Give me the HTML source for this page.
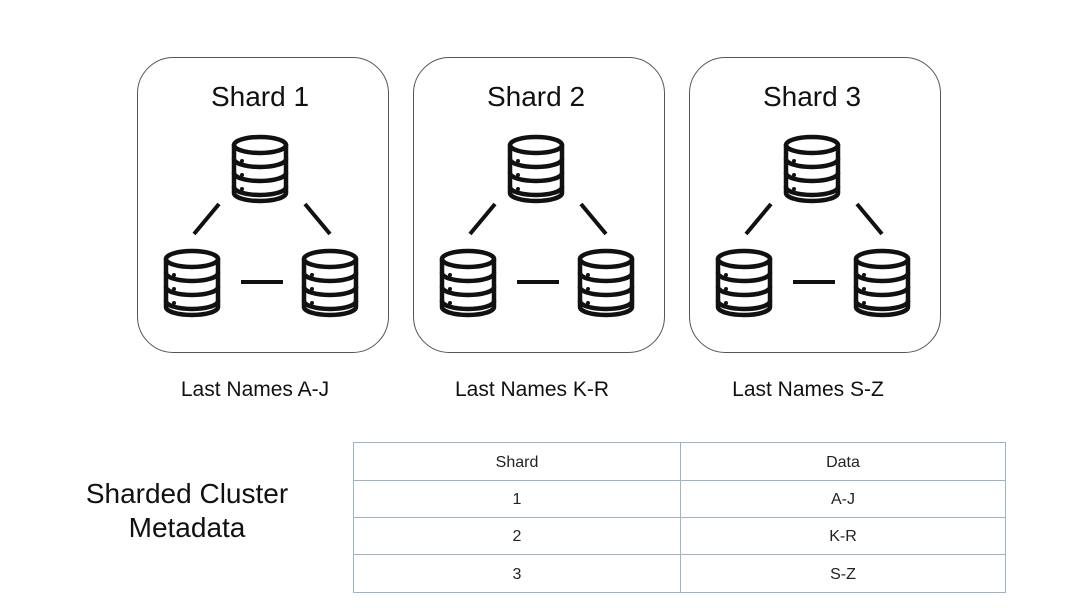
<!DOCTYPE html>
<html><head><meta charset="utf-8"><style>
html,body{margin:0;padding:0;background:#fff;}
body{width:1078px;height:616px;position:relative;overflow:hidden;font-family:"Liberation Sans",sans-serif;color:#111;}
</style></head><body>
<svg width="1078" height="616" viewBox="0 0 1078 616" xmlns="http://www.w3.org/2000/svg" style="position:absolute;left:0;top:0">
<defs>
<g id="db" fill="none" stroke="#111" stroke-width="4.5" stroke-linecap="round" stroke-linejoin="round">
<ellipse cx="28" cy="10" rx="26" ry="8"/>
<path d="M2 10 V58 A26 8 0 0 0 54 58 V10"/>
<path d="M2 24 A26 8 0 0 0 54 24"/>
<path d="M2 38 A26 8 0 0 0 54 38"/>
<path d="M2 52 A26 8 0 0 0 54 52"/>
<circle cx="10" cy="26" r="2" fill="#111" stroke="none"/>
<circle cx="10" cy="40" r="2" fill="#111" stroke="none"/>
<circle cx="10" cy="54" r="2" fill="#111" stroke="none"/>
</g>
<g id="shard">
<rect x="137.5" y="57.5" width="251" height="295" rx="36" fill="#fff" stroke="#555" stroke-width="1"/>
<use href="#db" x="232" y="135"/>
<use href="#db" x="164" y="249"/>
<use href="#db" x="302" y="249"/>
<g stroke="#111" stroke-width="4" stroke-linecap="butt">
<line x1="219" y1="204" x2="194" y2="234"/>
<line x1="305" y1="204" x2="330" y2="234"/>
<line x1="241" y1="282" x2="283" y2="282"/>
</g>
</g>
</defs>
<use href="#shard" x="0"/>
<use href="#shard" x="276"/>
<use href="#shard" x="552"/>
<g font-family="Liberation Sans, sans-serif" text-anchor="middle" fill="#111">
<text x="260" y="106" font-size="28">Shard 1</text>
<text x="536" y="106" font-size="28">Shard 2</text>
<text x="812" y="106" font-size="28">Shard 3</text>
<text x="255" y="396" font-size="21">Last Names A-J</text>
<text x="532" y="396" font-size="21">Last Names K-R</text>
<text x="808" y="396" font-size="21">Last Names S-Z</text>
<text x="187" y="503" font-size="28">Sharded Cluster</text>
<text x="187" y="537" font-size="28">Metadata</text>
</g>
<g fill="none" stroke="#9fb3c3" stroke-width="1">
<rect x="353.5" y="442.5" width="652" height="150"/>
<line x1="353" y1="480.5" x2="1006" y2="480.5"/>
<line x1="353" y1="517.5" x2="1006" y2="517.5"/>
<line x1="353" y1="554.5" x2="1006" y2="554.5"/>
<line x1="680.5" y1="442" x2="680.5" y2="593"/>
</g>
<g font-family="Liberation Sans, sans-serif" text-anchor="middle" fill="#222" font-size="16">
<text x="517" y="467">Shard</text>
<text x="843" y="467">Data</text>
<text x="517" y="504">1</text>
<text x="843" y="504">A-J</text>
<text x="517" y="541">2</text>
<text x="843" y="541">K-R</text>
<text x="517" y="579">3</text>
<text x="843" y="579">S-Z</text>
</g>
</svg>
</body></html>
